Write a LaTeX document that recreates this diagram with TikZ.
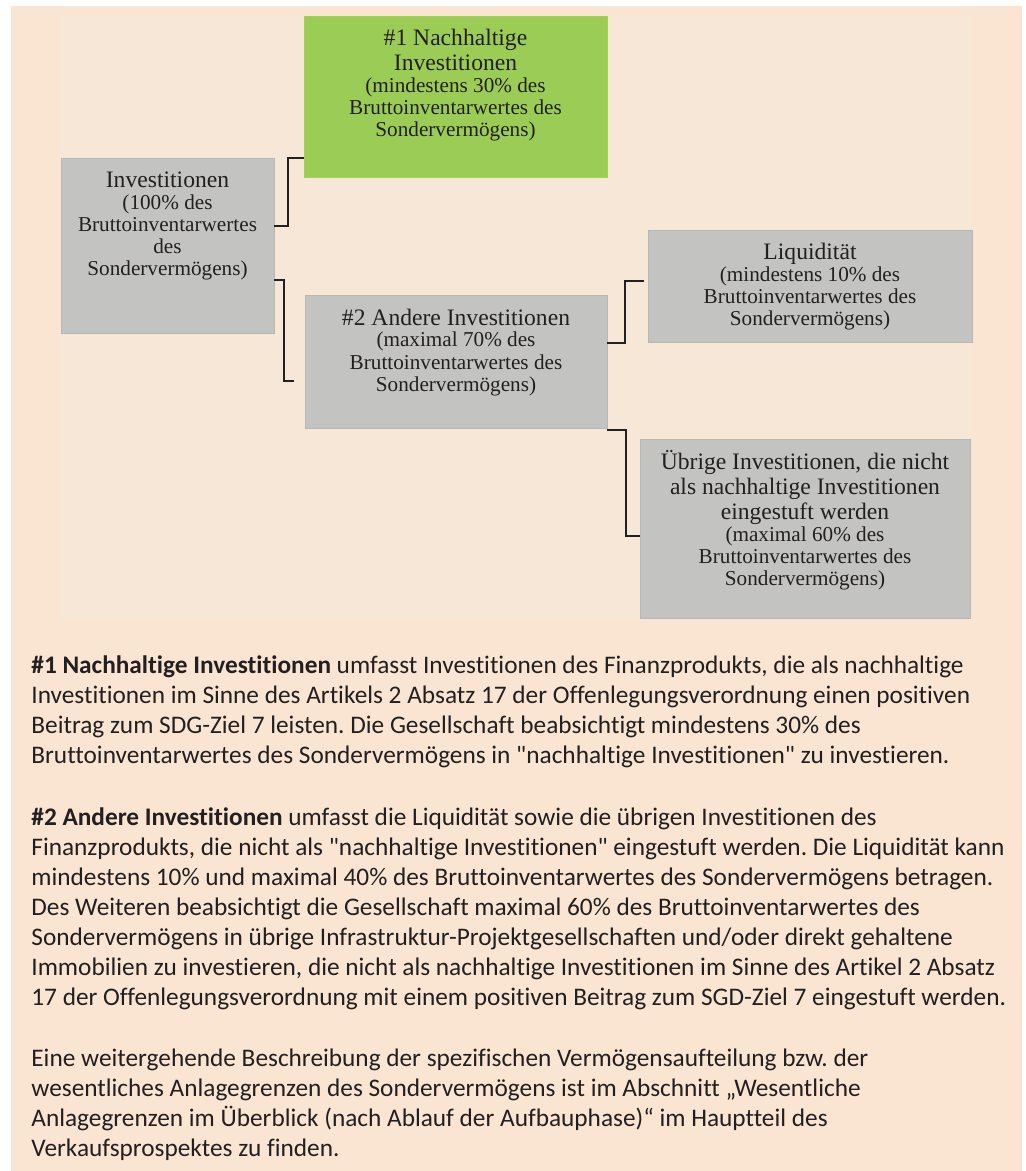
\documentclass[tikz,border=0pt]{standalone}
\usepackage{fontspec}
\setmainfont[Ligatures={TeX,NoCommon}]{Carlito}
\newfontfamily\kastenfont{Liberation Serif}
\usetikzlibrary{calc}
\frenchspacing
\definecolor{pfirsich}{RGB}{249,229,209}
\definecolor{pfirsichhell}{RGB}{247,231,214}
\definecolor{grau}{RGB}{195,196,194}
\definecolor{gruen}{RGB}{155,205,86}
\definecolor{schrift}{RGB}{35,31,32}
\newcommand{\boxinhalt}[4]{\parbox[c][#2][t]{#1}{\centering\kastenfont\fontsize{11.8}{12.5}\selectfont\rule{0pt}{15pt}#3\par\fontsize{10.6}{11}\selectfont #4\par}}

\begin{document}
\begin{tikzpicture}[x=0.5pt, y=-0.5pt,
    kasten/.style={anchor=north west, inner sep=0pt, outer sep=0pt, text=schrift, fill=grau, draw=grau!94!black, line width=0.4pt},
    verbinder/.style={draw=schrift, line width=1pt},
    absatz/.style={anchor=base west, inner sep=0pt, text=schrift, font=\fontsize{12.65}{15}\selectfont}]
            \useasboundingbox (0,0) rectangle (1026,1171);
            \fill[white] (0,0) rectangle (1026,1171);
            \fill[pfirsich] (11,6) rectangle (1022,1171);
            \fill[pfirsichhell] (60,15) rectangle (971,620);

            \node[kasten] (inv) at (61,158) {\boxinhalt{106.5pt}{87.5pt}{Investitionen}{(100\% des\\Bruttoinventarwertes\\des\\Sondervermögens)}};
            \node[kasten, fill=gruen, draw=gruen!90!yellow] (nach) at (304,16) {\boxinhalt{151.5pt}{80.5pt}{\#1 Nachhaltige\\Investitionen}{(mindestens 30\% des\\Bruttoinventarwertes des\\Sondervermögens)}};
            \node[kasten] (andere) at (305,295) {\boxinhalt{151pt}{66.5pt}{\#2 Andere Investitionen}{(maximal 70\% des\\Bruttoinventarwertes des\\Sondervermögens)}};
            \node[kasten] (liq) at (648,230) {\boxinhalt{162pt}{56pt}{Liquidität}{(mindestens 10\% des\\Bruttoinventarwertes des\\Sondervermögens)}};
            \node[kasten] (uebrig) at (640,439) {\boxinhalt{165pt}{89.5pt}{Übrige Investitionen, die nicht\\als nachhaltige Investitionen\\eingestuft werden}{(maximal 60\% des\\Bruttoinventarwertes des\\Sondervermögens)}};

            \draw[verbinder] ($(inv.north east)!0.39!(inv.south east)$) -- ++(14,0) |- ($(nach.north west)!0.88!(nach.south west)$);
            \draw[verbinder] ($(inv.north east)!0.7!(inv.south east)$) -- ++(10,0) |- ($(andere.north west)!0.65!(andere.south west)+(-11,0)$);
            \draw[verbinder] ($(andere.north east)!0.36!(andere.south east)$) -- ++(18,0) |- ($(liq.north west)!0.455!(liq.south west)+(-4,0)$);
            \draw[verbinder] ($(andere.south east)+(0,2)$) -- ++(19,0) |- ($(uebrig.north west)!0.54!(uebrig.south west)$);

            \node[absatz] (absatz1) at (31,673) {\parbox[t]{505pt}{\raggedright
              \textbf{\#1 Nachhaltige Investitionen} umfasst Investitionen des Finanzprodukts, die als nachhaltige\\
              Investitionen im Sinne des Artikels 2 Absatz 17 der Offenlegungsverordnung einen positiven\\
              Beitrag zum SDG-Ziel 7 leisten. Die Gesellschaft beabsichtigt mindestens 30\% des\\
              Bruttoinventarwertes des Sondervermögens in \textquotedbl nachhaltige Investitionen\textquotedbl{} zu investieren.}};
            \node[absatz] (absatz2) at (31,825) {\parbox[t]{505pt}{\raggedright
              \textbf{\#2 Andere Investitionen} umfasst die Liquidität sowie die übrigen Investitionen des\\
              Finanzprodukts, die nicht als \textquotedbl nachhaltige Investitionen\textquotedbl{} eingestuft werden. Die Liquidität kann\\
              mindestens 10\% und maximal 40\% des Bruttoinventarwertes des Sondervermögens betragen.\\
              Des Weiteren beabsichtigt die Gesellschaft maximal 60\% des Bruttoinventarwertes des\\
              Sondervermögens in übrige Infrastruktur-Projektgesellschaften und/oder direkt gehaltene\\
              Immobilien zu investieren, die nicht als nachhaltige Investitionen im Sinne des Artikel 2 Absatz\\
              17 der Offenlegungsverordnung mit einem positiven Beitrag zum SGD-Ziel 7 eingestuft werden.}};
            \node[absatz] (absatz3) at (31,1066) {\parbox[t]{505pt}{\raggedright
              Eine weitergehende Beschreibung der spezifischen Vermögensaufteilung bzw. der\\
              wesentliches Anlagegrenzen des Sondervermögens ist im Abschnitt „Wesentliche\\
              Anlagegrenzen im Überblick (nach Ablauf der Aufbauphase)“ im Hauptteil des\\
              Verkaufsprospektes zu finden.}};
        \end{tikzpicture}
\end{document}
